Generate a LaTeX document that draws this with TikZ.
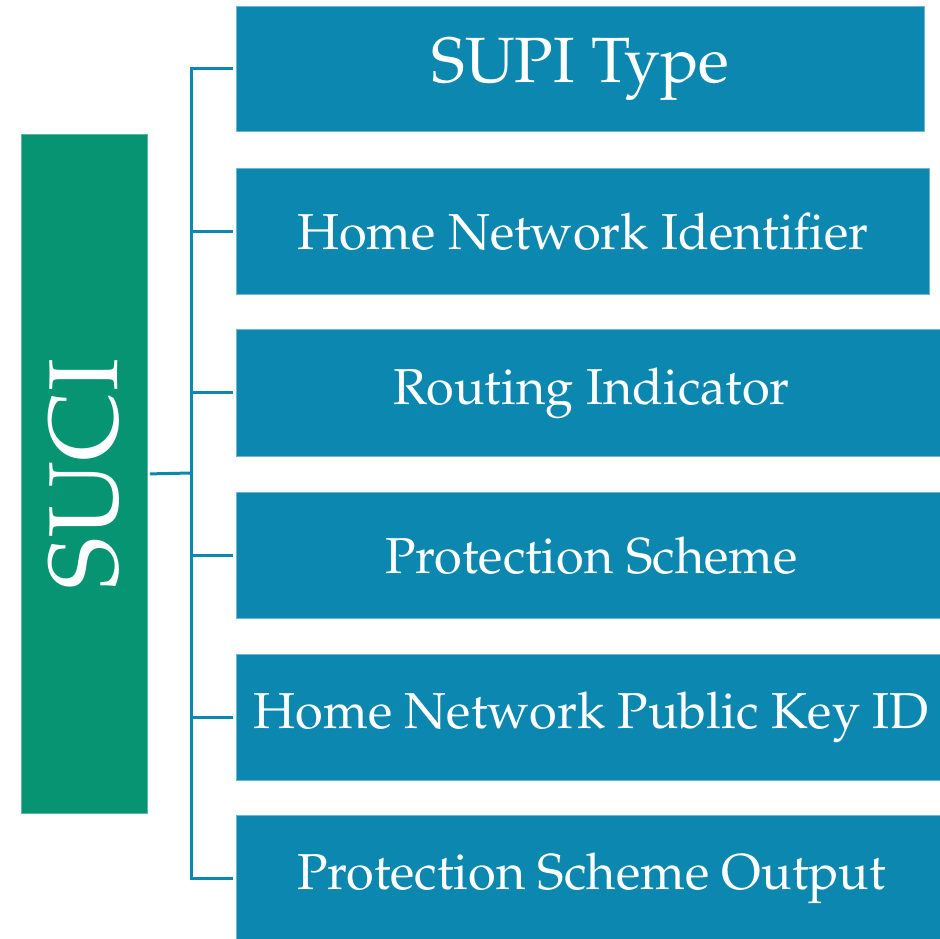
\documentclass[tikz,border=0pt]{standalone}
\usepackage[T1]{fontenc}
\usepackage{mathpazo}
\definecolor{fieldblue}{HTML}{0B87B0}
\definecolor{fieldedge}{HTML}{6DB6D0}
\definecolor{rootgreen}{HTML}{069472}
\definecolor{rootedge}{HTML}{5FB89E}
\begin{document}
\begin{tikzpicture}[x=1pt,y=-1pt,
  fieldbox/.style={fill=fieldblue,draw=fieldedge,line width=0.8pt,inner sep=0pt,
    text=white,anchor=north west},
  rootbox/.style={fill=rootgreen,draw=rootedge,line width=0.8pt,inner sep=0pt,
    text=white,anchor=north west},
  fieldtext/.style={text=white,font=\fontsize{50.5}{50.5}\selectfont},
  link/.style={draw=fieldblue,line width=3pt}]
\useasboundingbox (0,0) rectangle (940,938);
\begin{scope}
\clip (0,0) rectangle (940,938);
% root element
\node[rootbox,minimum width=126pt,minimum height=679pt] (suci) at (21,134) {};
\node[text=white,rotate=90,font=\fontsize{98}{98}\selectfont] (sucitxt) at (suci.center) {SUCI};
% field boxes
\node[fieldbox,minimum width=688pt,minimum height=125pt] (f1) at (236,6) {};
\node[fieldbox,minimum width=693pt,minimum height=126pt] (f2) at (236,168) {};
\node[fieldbox,minimum width=710pt,minimum height=127pt] (f3) at (236,329) {};
\node[fieldbox,minimum width=710pt,minimum height=126pt] (f4) at (236,492) {};
\node[fieldbox,minimum width=710pt,minimum height=126pt] (f5) at (236,654) {};
\node[fieldbox,minimum width=710pt,minimum height=126pt] (f6) at (236,815) {};
% labels
\node[text=white,font=\fontsize{64}{64}\selectfont] (t1) at (f1.center) {SUPI Type};
\node[fieldtext] (t2) at (f2.center) {Home Network Identifier};
\node[fieldtext] (t3) at (f3.center) {Routing Indicator};
\node[fieldtext] (t4) at (f4.center) {Protection Scheme};
\node[fieldtext] (t5) at (f5.center) {Home Network Public Key ID};
\node[fieldtext] (t6) at (f6.center) {Protection Scheme Output};
\end{scope}
% tree connectors
\coordinate (trunk) at (191,473);
\draw[link] (suci.east) ++(2,0) -- (trunk);
\draw[link] (f1.west) ++(-3,0) -| (trunk |- f6.west) -- ++(42,0);
\foreach \f in {f2,f3,f4,f5}
  \draw[link] (trunk |- \f.west) -- ([xshift=-3pt]\f.west);
\end{tikzpicture}
\end{document}
